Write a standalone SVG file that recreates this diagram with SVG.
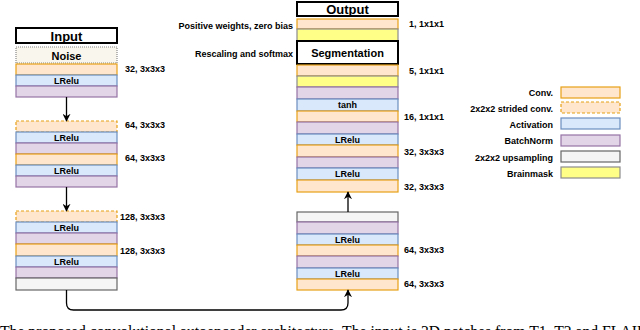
<svg xmlns="http://www.w3.org/2000/svg" width="640" height="330" viewBox="0 0 640 330">
<style>
.conv{fill:#ffe6cc;stroke:#e6a117;stroke-width:1.2}
.strided{fill:#ffe6cc;stroke:#e6a117;stroke-width:1.2;stroke-dasharray:3 2}
.act{fill:#dae8fc;stroke:#6c8ebf;stroke-width:1.2}
.bn{fill:#e1d5e7;stroke:#9673a6;stroke-width:1.2}
.up{fill:#f5f5f5;stroke:#666666;stroke-width:1.2}
.mask{fill:#ffff88;stroke:#8c8c8c;stroke-width:1.2}
.noise{fill:#f9f7ed;stroke:#888888;stroke-width:1.2;stroke-dasharray:1 1}
.title{fill:#ffffff;stroke:#000000;stroke-width:2}
text{font-family:"Liberation Sans",Arial,Helvetica,sans-serif;font-weight:bold;fill:#000;dominant-baseline:central}
.s{font-size:9px}
.c{text-anchor:middle}
.r{text-anchor:end}
.big{font-size:13px}
.cap{font-family:"Liberation Serif","Times New Roman",serif;font-weight:normal;font-size:15.7px;dominant-baseline:auto}
.edge{fill:none;stroke:#000;stroke-width:1.3}
</style>
<defs>
<marker id="arr" viewBox="0 0 10 10" refX="9" refY="5" markerWidth="8" markerHeight="8" markerUnits="userSpaceOnUse" orient="auto">
<path d="M0,0 L10,5 L0,10 L3,5 Z" fill="#000"/>
</marker>
</defs>

<g id="encoder-block1">
<g id="input"><rect class="title" x="16" y="28" width="101" height="15"/><text class="big c" x="66.5" y="36">Input</text></g>
<g id="noise"><rect class="noise" x="16" y="47" width="101" height="16"/><text class="c" x="66.5" y="55.5" font-size="11px">Noise</text></g>
<g id="e1-conv"><rect class="conv" x="16" y="64" width="101" height="11"/></g>
<g id="e1-act"><rect class="act" x="16" y="75" width="101" height="11"/><text class="s c" x="66.5" y="80.5">LRelu</text></g>
<g id="e1-bn"><rect class="bn" x="16" y="86" width="101" height="11"/></g>
</g>

<g id="encoder-block2">
<g id="e2-strided"><rect class="strided" x="16" y="121" width="101" height="11"/></g>
<g id="e2-act1"><rect class="act" x="16" y="132" width="101" height="11"/><text class="s c" x="66.5" y="137.5">LRelu</text></g>
<g id="e2-bn1"><rect class="bn" x="16" y="143" width="101" height="11"/></g>
<g id="e2-conv"><rect class="conv" x="16" y="154" width="101" height="11"/></g>
<g id="e2-act2"><rect class="act" x="16" y="165" width="101" height="11"/><text class="s c" x="66.5" y="170.5">LRelu</text></g>
<g id="e2-bn2"><rect class="bn" x="16" y="176" width="101" height="11"/></g>
</g>

<g id="encoder-block3">
<g id="e3-strided"><rect class="strided" x="16" y="211" width="101" height="11"/></g>
<g id="e3-act1"><rect class="act" x="16" y="222" width="101" height="11"/><text class="s c" x="66.5" y="227.5">LRelu</text></g>
<g id="e3-bn1"><rect class="bn" x="16" y="233" width="101" height="11"/></g>
<g id="e3-conv"><rect class="conv" x="16" y="244" width="101" height="12"/></g>
<g id="e3-act2"><rect class="act" x="16" y="256" width="101" height="11"/><text class="s c" x="66.5" y="261.5">LRelu</text></g>
<g id="e3-bn2"><rect class="bn" x="16" y="267" width="101" height="11"/></g>
<g id="e3-up"><rect class="up" x="16" y="278" width="101" height="12"/></g>
</g>

<g id="decoder-upper">
<g id="output"><rect class="title" x="297" y="2" width="101" height="14"/><text class="big c" x="347.5" y="9.5">Output</text></g>
<g id="d-pos-conv"><rect class="conv" x="297" y="19" width="101" height="10"/></g>
<g id="d-mask1"><rect class="mask" x="297" y="29" width="101" height="12"/></g>
<g id="segmentation"><rect class="title" x="297" y="41" width="101" height="23"/><text class="c" x="347.5" y="53" font-size="11px">Segmentation</text></g>
<g id="d-conv5"><rect class="conv" x="297" y="65" width="101" height="11"/></g>
<g id="d-mask2"><rect class="mask" x="297" y="76" width="101" height="11"/></g>
<g id="d-bn0"><rect class="bn" x="297" y="87" width="101" height="12"/></g>
<g id="d-tanh"><rect class="act" x="297" y="99" width="101" height="12"/><text class="s c" x="347.5" y="105">tanh</text></g>
<g id="d-conv16"><rect class="conv" x="297" y="111" width="101" height="11"/></g>
<g id="d-bn1"><rect class="bn" x="297" y="122" width="101" height="12"/></g>
<g id="d-act1"><rect class="act" x="297" y="134" width="101" height="11"/><text class="s c" x="347.5" y="139.5">LRelu</text></g>
<g id="d-conv32a"><rect class="conv" x="297" y="145" width="101" height="12"/></g>
<g id="d-bn2"><rect class="bn" x="297" y="157" width="101" height="11"/></g>
<g id="d-act2"><rect class="act" x="297" y="168" width="101" height="12"/><text class="s c" x="347.5" y="174">LRelu</text></g>
<g id="d-conv32b"><rect class="conv" x="297" y="180" width="101" height="12"/></g>
</g>

<g id="decoder-lower">
<g id="d-up"><rect class="up" x="297" y="212" width="101" height="10"/></g>
<g id="d-bn3"><rect class="bn" x="297" y="222" width="101" height="12"/></g>
<g id="d-act3"><rect class="act" x="297" y="234" width="101" height="11"/><text class="s c" x="347.5" y="239.5">LRelu</text></g>
<g id="d-conv64a"><rect class="conv" x="297" y="245" width="101" height="11"/></g>
<g id="d-bn4"><rect class="bn" x="297" y="256" width="101" height="12"/></g>
<g id="d-act4"><rect class="act" x="297" y="268" width="101" height="11"/><text class="s c" x="347.5" y="273.5">LRelu</text></g>
<g id="d-conv64b"><rect class="conv" x="297" y="279" width="101" height="11"/></g>
</g>

<g id="labels">
<text class="s r" x="165" y="69">32, 3x3x3</text>
<text class="s r" x="165" y="125">64, 3x3x3</text>
<text class="s r" x="165" y="157.5">64, 3x3x3</text>
<text class="s r" x="165" y="217">128, 3x3x3</text>
<text class="s r" x="165" y="250.5">128, 3x3x3</text>
<text class="s r" x="444" y="24.3">1, 1x1x1</text>
<text class="s r" x="444" y="71">5, 1x1x1</text>
<text class="s r" x="444" y="116.7">16, 1x1x1</text>
<text class="s r" x="444" y="152">32, 3x3x3</text>
<text class="s r" x="444" y="186.5">32, 3x3x3</text>
<text class="s r" x="444" y="249.5">64, 3x3x3</text>
<text class="s r" x="444" y="284">64, 3x3x3</text>
<text class="s r" x="293" y="25.5">Positive weights, zero bias</text>
<text class="s r" x="293" y="54">Rescaling and softmax</text>
</g>

<g id="connectors">
<path class="edge" d="M66.5,97 V121" marker-end="url(#arr)"/>
<path class="edge" d="M66.5,187 V211" marker-end="url(#arr)"/>
<path class="edge" d="M348,212 V192" marker-end="url(#arr)"/>
<path class="edge" d="M66.5,290 V303 Q66.5,310 73.5,310 H341 Q348,310 348,303 V290" marker-end="url(#arr)"/>
</g>

<g id="legend">
<g id="leg-conv"><rect class="conv" x="561" y="87" width="59" height="11"/><text class="s r" x="553" y="93">Conv.</text></g>
<g id="leg-strided"><rect class="strided" x="561" y="102" width="59" height="11"/><text class="s r" x="553" y="108.5">2x2x2 strided conv.</text></g>
<g id="leg-act"><rect class="act" x="561" y="118" width="59" height="11"/><text class="s r" x="553" y="124.5">Activation</text></g>
<g id="leg-bn"><rect class="bn" x="561" y="135" width="59" height="11"/><text class="s r" x="553" y="141">BatchNorm</text></g>
<g id="leg-up"><rect class="up" x="561" y="151" width="59" height="11"/><text class="s r" x="553" y="157.5">2x2x2 upsampling</text></g>
<g id="leg-mask"><rect class="mask" x="561" y="167" width="59" height="11"/><text class="s r" x="553" y="174">Brainmask</text></g>
</g>

<text class="cap" x="0" y="337">The proposed convolutional autoencoder architecture. The input is 3D patches from T1, T2 and FLAIR</text>
</svg>
